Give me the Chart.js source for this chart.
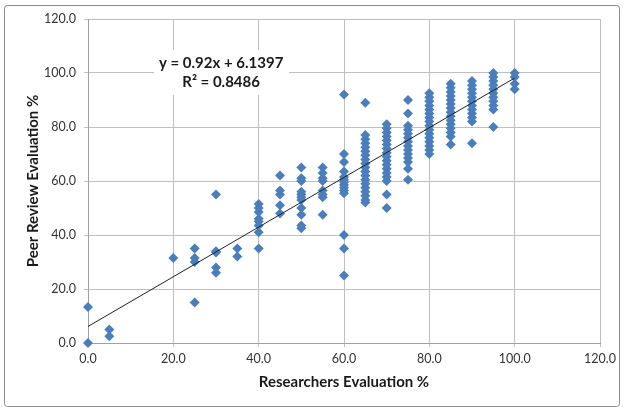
<!DOCTYPE html>
<html><head><meta charset="utf-8">
<script src="https://cdn.jsdelivr.net/npm/chart.js@4/dist/chart.umd.min.js"></script>
<style>html,body{margin:0;padding:0;background:#fff;} canvas{display:block;}</style>
</head><body>
<canvas id="c" width="625" height="412"></canvas>
<script>
// Researchers' evaluation levels (x) and the peer review scores observed at each level (y)
const researcherLevels = [0, 5, 20, 25, 30, 35, 40, 45, 50, 55, 60, 65, 70, 75, 80, 85, 90, 95, 100];
const peerScoresByLevel = [
  [13.3, 0],
  [5, 2.5],
  [31.5],
  [35, 31.5, 30, 15],
  [55, 34, 33.5, 28, 26],
  [35, 32],
  [51.5, 50, 48.5, 46, 45, 43.5, 41, 35],
  [62, 56.5, 55, 51, 48],
  [65, 61, 60, 56, 55, 54, 53, 50, 47.5, 43.5, 42.5],
  [65, 63, 61, 60, 56.5, 55, 54, 47.5],
  [92, 70, 67, 63.5, 61.5, 60.5, 59.5, 58.5, 57.5, 56.5, 55.5, 40, 35, 25],
  [89, 77, 75.5, 74, 72.5, 71, 69.5, 68, 66.5, 65, 63.5, 62, 60.5, 59, 57.5, 56, 54.5, 53, 52],
  [81, 79.5, 78, 76.5, 75, 73.5, 72, 70.5, 69, 67.5, 66, 64.5, 63, 61.5, 60, 55, 50],
  [90, 85, 80.5, 79, 77.5, 76, 74.5, 73, 71.5, 70, 68.5, 67, 64.5, 60.5],
  [92.5, 91, 89.5, 88, 86.5, 85, 83.5, 82, 80.5, 79, 77.5, 76, 74.5, 73, 71.5, 70],
  [96, 94.5, 93, 91.5, 90, 88.5, 87, 85.5, 84, 82.5, 81, 79.5, 78, 76.5, 73.5],
  [97, 95.5, 94, 92.5, 91, 89.5, 88, 86.5, 85, 83.5, 82, 74],
  [100, 98.5, 97, 95.5, 94, 92.5, 91, 89.5, 88, 86.5, 80],
  [100, 98.5, 96, 94]
];
const axisTicks = [0, 20, 40, 60, 80, 100, 120];
const trendSlope = 0.92;
const trendIntercept = 6.1397;
const trendXRange = [0, 100];
const equationLines = ['y = 0.92x + 6.1397', 'R\u00B2 = 0.8486'];
const equationAnchor = {x: 31.2, y: 100};
const xTitle = 'Researchers Evaluation %';
const yTitle = 'Peer Review Evaluation %';

const points = researcherLevels.flatMap((x, i) => peerScoresByLevel[i].map(y => ({x, y})));
const trendPoints = trendXRange.map(x => ({x, y: trendSlope * x + trendIntercept}));

const FONT = 'Lato, "Open Sans", sans-serif';

const frame = {
  id: 'frame',
  beforeDraw(chart) {
    const ctx = chart.ctx;
    ctx.save();
    ctx.fillStyle = '#fff';
    ctx.fillRect(0, 0, chart.width, chart.height);
    ctx.strokeStyle = '#8c8c8c';
    ctx.lineWidth = 1;
    ctx.beginPath();
    if (ctx.roundRect) ctx.roundRect(4.5, 5.5, 615, 401, 3); else ctx.rect(4.5, 5.5, 615, 401);
    ctx.stroke();
    ctx.restore();
  }
};

const equation = {
  id: 'equation',
  afterDraw(chart) {
    const ctx = chart.ctx;
    const cx = chart.scales.x.getPixelForValue(equationAnchor.x);
    const cy = chart.scales.y.getPixelForValue(equationAnchor.y);
    ctx.save();
    ctx.fillStyle = '#fff';
    ctx.fillRect(cx - 67, cy - 23, 135, 45);
    ctx.font = 'bold 15px ' + FONT;
    ctx.fillStyle = '#1a1a1a';
    ctx.textAlign = 'center';
    ctx.textBaseline = 'middle';
    ctx.fillText(equationLines[0], cx, cy - 9.5);
    ctx.fillText(equationLines[1], cx, cy + 9.5);
    ctx.restore();
  }
};

function axisOpts(titleText, isY) {
  return {
    type: 'linear',
    min: 0, max: 120,
    afterBuildTicks(s) { s.ticks = axisTicks.map(v => ({value: v})); },
    afterFit(s) { if (isY) s.width = 88; else s.height = 69; },
    grid: {color: '#BFBFBF', lineWidth: 1, tickLength: 4, drawTicks: true},
    border: {color: '#A0A0A0', width: 1},
    ticks: {
      callback: v => Number(v).toFixed(1),
      font: {family: FONT, size: 12.5},
      color: '#333',
      padding: isY ? 8 : 4,
      maxRotation: 0
    },
    title: {
      display: true,
      text: titleText,
      font: {family: FONT, size: 15, weight: 'bold'},
      color: '#1a1a1a',
      padding: isY ? {top: 24, bottom: 0} : {top: 0, bottom: 21}
    }
  };
}

new Chart(document.getElementById('c'), {
  type: 'scatter',
  data: {
    datasets: [
      {
        label: 'Linear trend',
        data: trendPoints,
        showLine: true,
        borderColor: '#222',
        borderWidth: 1,
        pointRadius: 0,
        fill: false
      },
      {
        label: 'Evaluations',
        data: points,
        clip: false,
        pointStyle: 'rectRot',
        pointRadius: 5,
        pointHoverRadius: 5,
        backgroundColor: '#4A7EBB',
        borderColor: '#4A7EBB',
        borderWidth: 0
      }
    ]
  },
  options: {
    responsive: false,
    devicePixelRatio: 1,
    animation: false,
    layout: {padding: {left: 0, right: 25, top: 19, bottom: 0}},
    plugins: {legend: {display: false}, tooltip: {enabled: false}},
    scales: {
      x: axisOpts(xTitle, false),
      y: axisOpts(yTitle, true)
    }
  },
  plugins: [frame, equation]
});
</script>
</body></html>
